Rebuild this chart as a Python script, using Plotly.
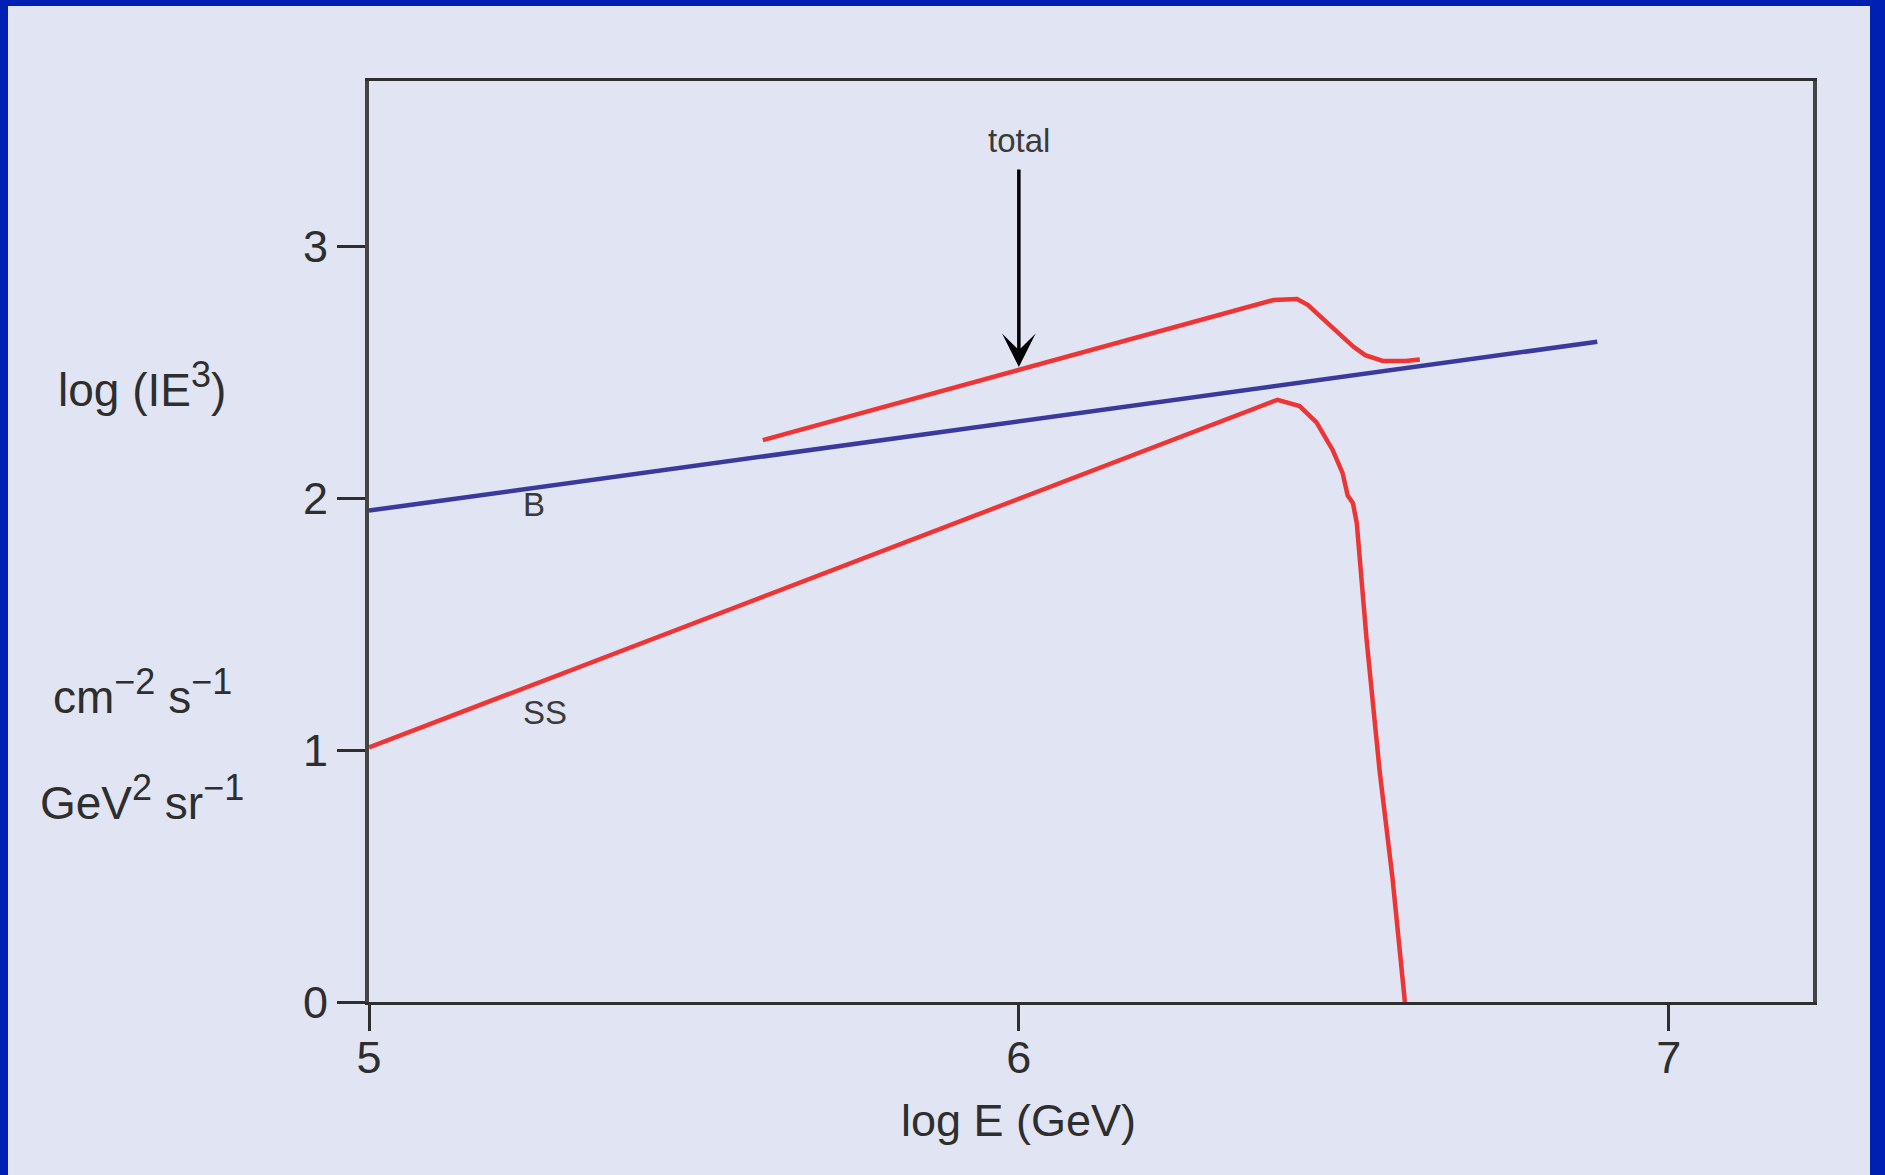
import plotly.graph_objects as go

# ---------------- data ----------------
b_x = [5.0, 6.89]
b_y = [1.95, 2.62]

ss_x = [5.0, 6.355, 6.398, 6.432, 6.458, 6.483, 6.498, 6.506, 6.514, 6.520, 6.535, 6.555, 6.575, 6.594]
ss_y = [1.01, 2.35, 2.39, 2.365, 2.30, 2.19, 2.10, 2.01, 1.98, 1.90, 1.44, 0.92, 0.49, 0.0]

total_x = [5.606, 6.392, 6.428, 6.445, 6.481, 6.515, 6.533, 6.560, 6.595, 6.617]
total_y = [2.23, 2.786, 2.79, 2.766, 2.68, 2.60, 2.567, 2.544, 2.544, 2.55]

x_ticks = [5, 6, 7]
y_ticks = [0, 1, 2, 3]
x_range = [5, 7.222]
y_range = [0, 3.655]

curve_labels = ["B", "SS", "total"]
curve_label_x = [5.254, 5.271, 6.0]
curve_label_y = [1.976, 1.15, 3.417]

arrow_tip = (6.0, 2.52)
arrow_tail = (6.0, 3.31)

SUP = '<sup><span style="font-size:36px">{}</span></sup>'
x_title = "log E (GeV)"
y_title_lines = ["log (IE" + SUP.format("3") + ")",
                 "cm" + SUP.format("\u22122") + " s" + SUP.format("\u22121"),
                 "GeV" + SUP.format("2") + " sr" + SUP.format("\u22121")]
y_title_y = [2.45, 1.23, 0.81]

# ---------------- style ----------------
FONT = "Liberation Sans, Arial, Helvetica, sans-serif"
BORDER = "#0020b4"
BG = "#e1e5f3"
RED = "#ee3535"
BLUE = "#3a3a9e"
INK = "#2e2e2e"

W, H = 1885, 1175
ML, MR, MT, MB = 369, 72, 81, 173
PW, PH = W - ML - MR, H - MT - MB

fig = go.Figure()
fig.add_trace(go.Scatter(x=b_x, y=b_y, mode="lines", line=dict(color=BLUE, width=4.5), name="B"))
fig.add_trace(go.Scatter(x=total_x, y=total_y, mode="lines", line=dict(color=RED, width=4.5), name="total"))
fig.add_trace(go.Scatter(x=ss_x, y=ss_y, mode="lines", line=dict(color=RED, width=4.5), name="SS"))

annotations = []
for t, x, y in zip(curve_labels, curve_label_x, curve_label_y):
    annotations.append(dict(x=x, y=y, xref="x", yref="y", text=t, showarrow=False,
                            font=dict(family=FONT, size=33, color="#3a3a3a"),
                            xanchor="center", yanchor="middle"))
annotations.append(dict(x=arrow_tip[0], y=arrow_tip[1], ax=arrow_tail[0], ay=arrow_tail[1],
                        xref="x", yref="y", axref="x", ayref="y", text="", showarrow=True,
                        arrowhead=3, arrowsize=1.6, arrowwidth=3.5, arrowcolor="#000000"))
annotations.append(dict(x=6.0, y=(-118) / PH, xref="x", yref="paper", text=x_title, showarrow=False,
                        font=dict(family=FONT, size=45, color=INK), xanchor="center", yanchor="middle"))
for t, y in zip(y_title_lines, y_title_y):
    annotations.append(dict(x=(142 - ML) / PW, y=y, xref="paper", yref="y", text=t, showarrow=False,
                            font=dict(family=FONT, size=46, color=INK), xanchor="center", yanchor="middle"))

fig.update_layout(
    width=W, height=H, autosize=False,
    margin=dict(l=ML, r=MR, t=MT, b=MB, pad=0),
    paper_bgcolor=BORDER,
    plot_bgcolor=BG,
    showlegend=False,
    annotations=annotations,
    shapes=[dict(type="rect", xref="paper", yref="paper", layer="below",
                 x0=(8 - ML) / PW, x1=(1870 - ML) / PW, y0=-0.3, y1=(MT + PH - 6) / PH,
                 fillcolor=BG, line=dict(width=0))],
    xaxis=dict(range=x_range, tickvals=x_ticks, ticktext=[str(v) for v in x_ticks],
               ticks="outside", ticklen=26, tickwidth=3, tickcolor=INK,
               ticklabelstandoff=-12,
               showline=True, linecolor=INK, linewidth=3, mirror=True,
               showgrid=False, zeroline=False,
               tickfont=dict(family=FONT, size=45, color=INK)),
    yaxis=dict(range=y_range, tickvals=y_ticks, ticktext=[str(v) for v in y_ticks],
               ticks="outside", ticklen=28, tickwidth=3, tickcolor=INK,
               showline=True, linecolor="#444444", linewidth=4, mirror=True,
               showgrid=False, zeroline=False,
               tickfont=dict(family=FONT, size=45, color=INK)),
)

fig.write_html("out.html", config={"displayModeBar": False},
               post_script="document.body.style.margin='0';document.body.style.overflow='hidden';")
